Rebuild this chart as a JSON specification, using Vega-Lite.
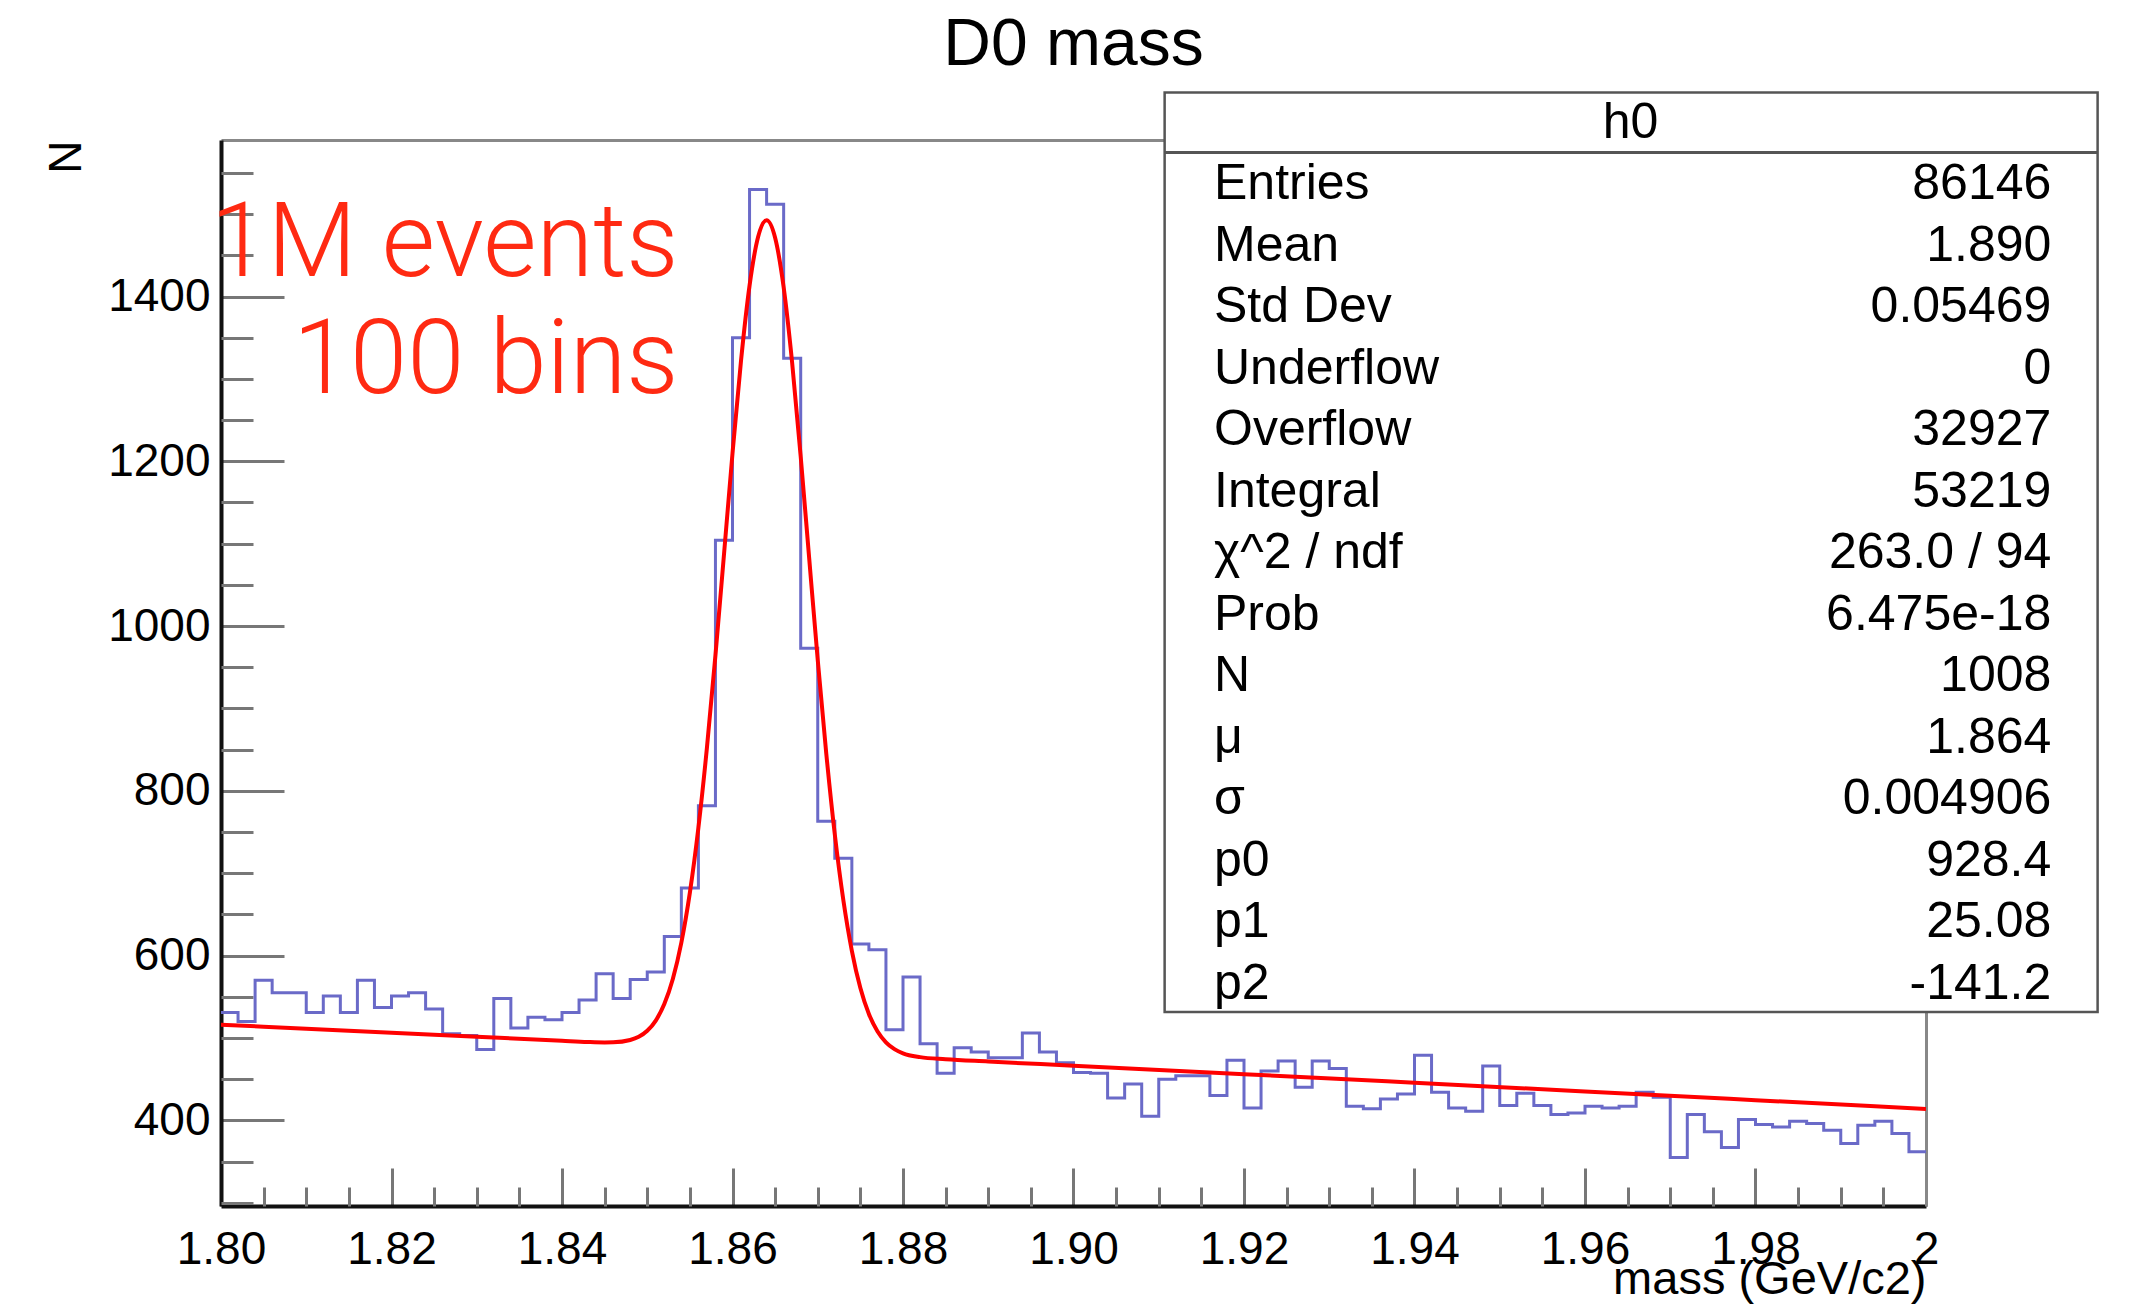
{
  "$schema": "https://vega.github.io/schema/vega-lite/v6.json",
  "width": 1705,
  "height": 1066,
  "autosize": {"type": "none"},
  "padding": {"left": 221, "top": 140, "right": 210, "bottom": 104},
  "background": "white",
  "config": {
    "view": {"stroke": null},
    "font": "Liberation Sans",
    "axis": {"labelFont": "Liberation Sans", "titleFont": "Liberation Sans", "labelColor": "#000", "titleColor": "#000", "grid": false, "titleFontWeight": "normal"}
  },
  "title": {"text": "D0 mass", "fontSize": 66, "fontWeight": "normal", "font": "Liberation Sans", "color": "#000", "anchor": "middle", "frame": "group", "baseline": "alphabetic", "offset": 23, "dy": 63},
  "datasets": {
    "hist": [
      {"mass": 1.800, "N": 531}, {"mass": 1.802, "N": 520}, {"mass": 1.804, "N": 570}, {"mass": 1.806, "N": 555}, {"mass": 1.808, "N": 555},
      {"mass": 1.810, "N": 531}, {"mass": 1.812, "N": 551}, {"mass": 1.814, "N": 531}, {"mass": 1.816, "N": 570}, {"mass": 1.818, "N": 537},
      {"mass": 1.820, "N": 551}, {"mass": 1.822, "N": 555}, {"mass": 1.824, "N": 535}, {"mass": 1.826, "N": 505}, {"mass": 1.828, "N": 503},
      {"mass": 1.830, "N": 486}, {"mass": 1.832, "N": 548}, {"mass": 1.834, "N": 512}, {"mass": 1.836, "N": 525}, {"mass": 1.838, "N": 522},
      {"mass": 1.840, "N": 531}, {"mass": 1.842, "N": 546}, {"mass": 1.844, "N": 578}, {"mass": 1.846, "N": 548}, {"mass": 1.848, "N": 571},
      {"mass": 1.850, "N": 580}, {"mass": 1.852, "N": 623}, {"mass": 1.854, "N": 682}, {"mass": 1.856, "N": 782}, {"mass": 1.858, "N": 1104},
      {"mass": 1.860, "N": 1350}, {"mass": 1.862, "N": 1530}, {"mass": 1.864, "N": 1512}, {"mass": 1.866, "N": 1325}, {"mass": 1.868, "N": 973},
      {"mass": 1.870, "N": 763}, {"mass": 1.872, "N": 718}, {"mass": 1.874, "N": 614}, {"mass": 1.876, "N": 607}, {"mass": 1.878, "N": 510},
      {"mass": 1.880, "N": 574}, {"mass": 1.882, "N": 493}, {"mass": 1.884, "N": 457}, {"mass": 1.886, "N": 488}, {"mass": 1.888, "N": 483},
      {"mass": 1.890, "N": 476}, {"mass": 1.892, "N": 476}, {"mass": 1.894, "N": 506}, {"mass": 1.896, "N": 483}, {"mass": 1.898, "N": 470},
      {"mass": 1.900, "N": 458}, {"mass": 1.902, "N": 457}, {"mass": 1.904, "N": 427}, {"mass": 1.906, "N": 444}, {"mass": 1.908, "N": 405},
      {"mass": 1.910, "N": 450}, {"mass": 1.912, "N": 454}, {"mass": 1.914, "N": 454}, {"mass": 1.916, "N": 430}, {"mass": 1.918, "N": 473},
      {"mass": 1.920, "N": 415}, {"mass": 1.922, "N": 460}, {"mass": 1.924, "N": 472}, {"mass": 1.926, "N": 440}, {"mass": 1.928, "N": 472},
      {"mass": 1.930, "N": 463}, {"mass": 1.932, "N": 417}, {"mass": 1.934, "N": 414}, {"mass": 1.936, "N": 426}, {"mass": 1.938, "N": 432},
      {"mass": 1.940, "N": 479}, {"mass": 1.942, "N": 434}, {"mass": 1.944, "N": 415}, {"mass": 1.946, "N": 411}, {"mass": 1.948, "N": 466},
      {"mass": 1.950, "N": 418}, {"mass": 1.952, "N": 433}, {"mass": 1.954, "N": 418}, {"mass": 1.956, "N": 407}, {"mass": 1.958, "N": 409},
      {"mass": 1.960, "N": 417}, {"mass": 1.962, "N": 415}, {"mass": 1.964, "N": 417}, {"mass": 1.966, "N": 434}, {"mass": 1.968, "N": 428},
      {"mass": 1.970, "N": 355}, {"mass": 1.972, "N": 407}, {"mass": 1.974, "N": 386}, {"mass": 1.976, "N": 367}, {"mass": 1.978, "N": 401},
      {"mass": 1.980, "N": 395}, {"mass": 1.982, "N": 392}, {"mass": 1.984, "N": 399}, {"mass": 1.986, "N": 396}, {"mass": 1.988, "N": 388},
      {"mass": 1.990, "N": 372}, {"mass": 1.992, "N": 394}, {"mass": 1.994, "N": 399}, {"mass": 1.996, "N": 384}, {"mass": 1.998, "N": 362},
      {"mass": 2.000, "N": 362}
    ],
    "fit": [
      {"mass": 1.800, "fit": 516.1}, {"mass": 1.810, "fit": 511.2}, {"mass": 1.820, "fit": 506.3}, {"mass": 1.830, "fit": 501.4},
      {"mass": 1.840, "fit": 496.5}, {"mass": 1.843, "fit": 495.1}, {"mass": 1.845, "fit": 494.6}, {"mass": 1.846, "fit": 494.7},
      {"mass": 1.848, "fit": 497.5}, {"mass": 1.849, "fit": 501.4}, {"mass": 1.850, "fit": 508.7}, {"mass": 1.851, "fit": 521.1},
      {"mass": 1.852, "fit": 541.1}, {"mass": 1.853, "fit": 571.6}, {"mass": 1.854, "fit": 615.8}, {"mass": 1.855, "fit": 676.4},
      {"mass": 1.856, "fit": 755.1}, {"mass": 1.857, "fit": 852.2}, {"mass": 1.858, "fit": 964.6}, {"mass": 1.859, "fit": 1086.7},
      {"mass": 1.860, "fit": 1209.6}, {"mass": 1.861, "fit": 1322.2}, {"mass": 1.862, "fit": 1413.2}, {"mass": 1.863, "fit": 1472.2},
      {"mass": 1.864, "fit": 1492.5}, {"mass": 1.865, "fit": 1471.2}, {"mass": 1.866, "fit": 1411.2}, {"mass": 1.867, "fit": 1319.2},
      {"mass": 1.868, "fit": 1205.6}, {"mass": 1.869, "fit": 1081.7}, {"mass": 1.870, "fit": 958.6}, {"mass": 1.871, "fit": 845.2},
      {"mass": 1.872, "fit": 747.1}, {"mass": 1.873, "fit": 667.4}, {"mass": 1.874, "fit": 605.8}, {"mass": 1.875, "fit": 560.6},
      {"mass": 1.876, "fit": 529.1}, {"mass": 1.877, "fit": 508.1}, {"mass": 1.878, "fit": 494.7}, {"mass": 1.879, "fit": 486.4},
      {"mass": 1.880, "fit": 481.4}, {"mass": 1.882, "fit": 476.7}, {"mass": 1.885, "fit": 474.1}, {"mass": 1.890, "fit": 471.4},
      {"mass": 1.900, "fit": 466.3}, {"mass": 1.920, "fit": 456.0}, {"mass": 1.940, "fit": 445.6}, {"mass": 1.960, "fit": 435.1},
      {"mass": 1.980, "fit": 424.5}, {"mass": 2.000, "fit": 413.8}
    ],
    "stats": [
      {"rank": 1, "label": "Entries", "value": "86146"},
      {"rank": 2, "label": "Mean", "value": "1.890"},
      {"rank": 3, "label": "Std Dev", "value": "0.05469"},
      {"rank": 4, "label": "Underflow", "value": "0"},
      {"rank": 5, "label": "Overflow", "value": "32927"},
      {"rank": 6, "label": "Integral", "value": "53219"},
      {"rank": 7, "label": "χ^2 / ndf", "value": "263.0 / 94"},
      {"rank": 8, "label": "Prob", "value": "6.475e-18"},
      {"rank": 9, "label": "N", "value": "1008"},
      {"rank": 10, "label": "μ", "value": "1.864"},
      {"rank": 11, "label": "σ", "value": "0.004906"},
      {"rank": 12, "label": "p0", "value": "928.4"},
      {"rank": 13, "label": "p1", "value": "25.08"},
      {"rank": 14, "label": "p2", "value": "-141.2"}
    ]
  },
  "layer": [
    {
      "layer": [
        {
          "data": {"name": "hist"},
          "mark": {"type": "line", "interpolate": "step-after", "stroke": "#6a6ac8", "strokeWidth": 3, "clip": true},
          "encoding": {
            "x": {"field": "mass", "type": "quantitative",
              "scale": {"domain": [1.8, 2.0], "nice": false, "zero": false},
              "axis": {"orient": "bottom", "values": [1.8, 1.82, 1.84, 1.86, 1.88, 1.9, 1.92, 1.94, 1.96, 1.98, 2.0],
                "tickSize": -38, "tickWidth": 3, "tickColor": "#777", "labelPadding": 59, "labelFontSize": 46,
                "labelFlush": false, "labelOverlap": false, "labelBaseline": "top",
                "labelExpr": "datum.value > 1.999 ? '2' : format(datum.value, '.2f')",
                "domainColor": "#111", "domainWidth": 4, "grid": false,
                "title": "mass (GeV/c2)", "titleFontSize": 47, "titleAnchor": "end", "titlePadding": -16}},
            "y": {"field": "N", "type": "quantitative",
              "scale": {"domain": [296, 1590], "nice": false, "zero": false},
              "axis": {"orient": "left", "values": [400, 600, 800, 1000, 1200, 1400], "format": "d",
                "tickSize": -63, "tickWidth": 3, "tickColor": "#777", "labelPadding": 74, "labelFontSize": 46,
                "labelFlush": false, "labelOverlap": false,
                "domainColor": "#111", "domainWidth": 4, "grid": false,
                "title": "N", "titleFontSize": 46, "titleAnchor": "end", "titlePadding": 17}}
          }
        },
        {
          "data": {"name": "fit"},
          "mark": {"type": "line", "interpolate": "monotone", "stroke": "#ff0000", "strokeWidth": 4, "clip": true},
          "encoding": {
            "x": {"field": "mass", "type": "quantitative",
              "axis": {"orient": "bottom", "values": [1.805, 1.81, 1.815, 1.825, 1.83, 1.835, 1.845, 1.85, 1.855, 1.865, 1.87, 1.875, 1.885, 1.89, 1.895, 1.905, 1.91, 1.915, 1.925, 1.93, 1.935, 1.945, 1.95, 1.955, 1.965, 1.97, 1.975, 1.985, 1.99, 1.995],
                "tickSize": -19, "tickWidth": 3, "tickColor": "#777", "labels": false, "domain": false, "grid": false, "title": null}},
            "y": {"field": "fit", "type": "quantitative",
              "axis": {"orient": "left", "values": [300, 350, 450, 500, 550, 650, 700, 750, 850, 900, 950, 1050, 1100, 1150, 1250, 1300, 1350, 1450, 1500, 1550],
                "tickSize": -32, "tickWidth": 3, "tickColor": "#777", "labels": false, "domain": false, "grid": false, "title": null}}
          }
        },
        {
          "data": {"values": [{}]},
          "mark": {"type": "text", "text": "1M events", "align": "right", "baseline": "alphabetic", "fontSize": 103, "font": "Roboto", "fontWeight": 300, "color": "#ff2a12"},
          "encoding": {
            "x": {"datum": 1.85367, "type": "quantitative",
              "axis": {"orient": "top", "domain": true, "domainColor": "#888", "domainWidth": 3, "ticks": false, "labels": false, "grid": false, "title": null}},
            "y": {"datum": 1424.9, "type": "quantitative",
              "axis": {"orient": "right", "domain": true, "domainColor": "#888", "domainWidth": 3, "ticks": false, "labels": false, "grid": false, "title": null}}
          }
        },
        {
          "data": {"values": [{}]},
          "mark": {"type": "text", "text": "100 bins", "align": "right", "baseline": "alphabetic", "fontSize": 103, "font": "Roboto", "fontWeight": 300, "color": "#ff2a12"},
          "encoding": {
            "x": {"datum": 1.85367, "type": "quantitative", "axis": null},
            "y": {"datum": 1282.7, "type": "quantitative", "axis": null}
          }
        }
      ],
      "resolve": {"axis": {"x": "independent", "y": "independent"}}
    },
    {
      "layer": [
        {
          "data": {"values": [{}]},
          "mark": {"type": "rect", "fill": "white", "stroke": "#555", "strokeWidth": 2.5},
          "encoding": {
            "x": {"datum": 1.91069, "type": "quantitative", "axis": null},
            "x2": {"datum": 2.02013},
            "y": {"datum": -0.441, "type": "quantitative", "axis": null},
            "y2": {"datum": 14.51}
          }
        },
        {
          "data": {"values": [{}]},
          "mark": {"type": "rule", "stroke": "#555", "strokeWidth": 3},
          "encoding": {
            "x": {"datum": 1.91069, "type": "quantitative", "axis": null},
            "x2": {"datum": 2.02013},
            "y": {"datum": 0.535, "type": "quantitative", "axis": null}
          }
        },
        {
          "data": {"values": [{}]},
          "mark": {"type": "text", "text": "h0", "align": "center", "baseline": "middle", "fontSize": 50, "font": "Liberation Sans", "color": "#000"},
          "encoding": {
            "x": {"datum": 1.96534, "type": "quantitative", "axis": null},
            "y": {"datum": 0.047, "type": "quantitative", "axis": null}
          }
        },
        {
          "data": {"name": "stats"},
          "mark": {"type": "text", "align": "left", "baseline": "middle", "fontSize": 50, "font": "Liberation Sans", "color": "#000", "dy": 3},
          "encoding": {
            "x": {"datum": 1.91648, "type": "quantitative", "axis": null},
            "y": {"field": "rank", "type": "quantitative", "scale": {"domain": [0.33, 17.663], "reverse": true, "nice": false, "zero": false}, "axis": null},
            "text": {"field": "label"}
          }
        },
        {
          "data": {"name": "stats"},
          "mark": {"type": "text", "align": "right", "baseline": "middle", "fontSize": 50, "font": "Liberation Sans", "color": "#000", "dy": 3},
          "encoding": {
            "x": {"datum": 2.0147, "type": "quantitative", "axis": null},
            "y": {"field": "rank", "type": "quantitative", "axis": null},
            "text": {"field": "value"}
          }
        }
      ]
    }
  ],
  "resolve": {"scale": {"y": "independent"}, "axis": {"x": "independent", "y": "independent"}}
}
